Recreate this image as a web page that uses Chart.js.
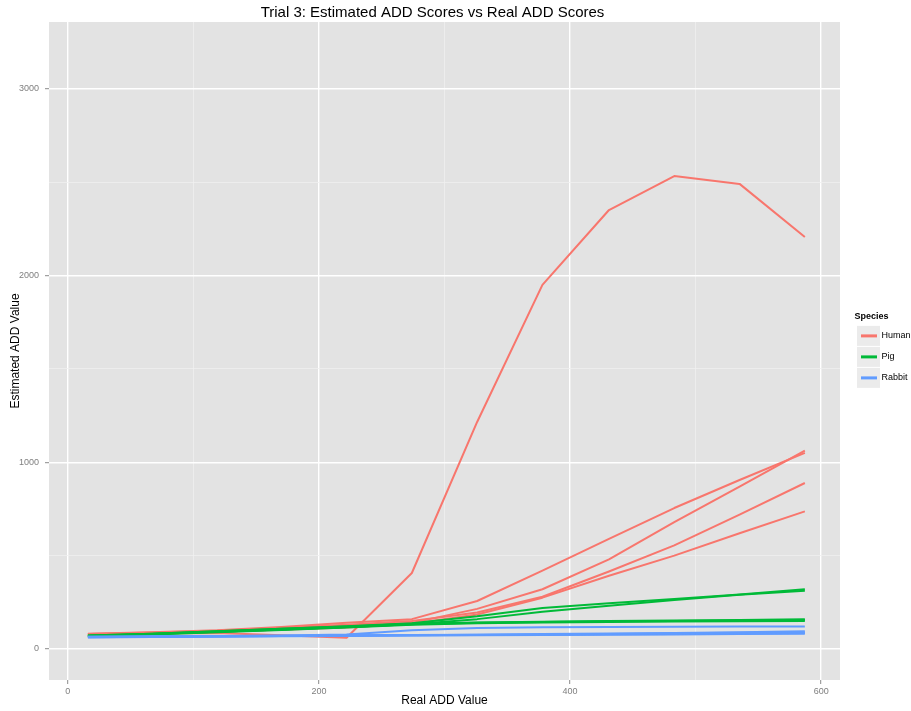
<!DOCTYPE html>
<html>
<head>
<meta charset="utf-8">
<title>Trial 3: Estimated ADD Scores vs Real ADD Scores</title>
<script src="https://cdn.jsdelivr.net/npm/chart.js@4.4.0/dist/chart.umd.min.js"></script>
<style>
  html, body { margin: 0; padding: 0; background: #ffffff; }
  #wrap { width: 911px; height: 711px; }
</style>
</head>
<body>
<div id="wrap"><canvas id="chart" width="911" height="711"></canvas></div>
<script>
// Real accumulated degree-day values at which each estimate was taken
const realAdd = [16, 67, 119, 170, 222, 274, 326, 378, 431, 483, 535, 587];

// Estimated ADD values, one array per replicate
const human1 = [80, 83, 86, 73, 60, 407, 1216, 1950, 2351, 2533, 2491, 2207];
const human2 = [82, 90, 100, 118, 140, 160, 257, 420, 590, 755, 905, 1050];
const human3 = [78, 85, 95, 108, 122, 140, 215, 320, 480, 680, 870, 1062];
const human4 = [80, 88, 98, 113, 130, 150, 195, 280, 415, 555, 720, 889];
const human5 = [76, 83, 92, 103, 115, 135, 185, 275, 392, 500, 620, 737];

const pig1 = [72, 82, 95, 108, 122, 138, 175, 220, 245, 268, 292, 320];
const pig2 = [70, 80, 92, 105, 118, 132, 160, 200, 232, 262, 290, 312];
const pig3 = [72, 82, 95, 108, 120, 135, 142, 146, 150, 153, 156, 160];
const pig4 = [70, 80, 92, 105, 118, 132, 140, 144, 148, 150, 153, 155];
const pig5 = [68, 78, 90, 102, 115, 130, 138, 142, 145, 147, 149, 150];

const rabbit1 = [66, 68, 70, 72, 78, 100, 112, 116, 118, 119, 120, 121];
const rabbit2 = [65, 67, 69, 71, 73, 75, 77, 80, 83, 86, 90, 95];
const rabbit3 = [64, 66, 68, 70, 72, 74, 76, 78, 81, 84, 87, 90];
const rabbit4 = [63, 65, 67, 69, 71, 73, 75, 77, 79, 81, 83, 86];
const rabbit5 = [62, 64, 66, 68, 70, 72, 73, 75, 77, 78, 80, 82];

const speciesNames = ['Human', 'Pig', 'Rabbit'];
const speciesColors = ['#F8766D', '#00BA38', '#619CFF'];
const speciesRuns = [
  [human1, human2, human3, human4, human5],
  [pig1, pig2, pig3, pig4, pig5],
  [rabbit1, rabbit2, rabbit3, rabbit4, rabbit5]
];

// Axis ticks: labelled majors plus unlabelled minor grid lines
const xTicks = [0, 100, 200, 300, 400, 500, 600];
const xMajor = [0, 200, 400, 600];
const yTicks = [0, 500, 1000, 1500, 2000, 2500, 3000];
const yMajor = [0, 1000, 2000, 3000];

const FONT = '"Liberation Sans", Arial, Helvetica, sans-serif';
const LEGEND_W = 71;     // width reserved for the legend column
const KEY_INSET = 9;     // extra indent of the legend keys
const KEY_TRIM = 26;     // narrows the box the legend title is centred in
const TITLE_NUDGE = 12;  // moves the centred plot title slightly left

const datasets = [];
speciesRuns.forEach((runs, s) => {
  runs.forEach(run => {
    datasets.push({
      label: speciesNames[s],
      data: realAdd.map((x, i) => ({ x: x, y: run[i] })),
      borderColor: speciesColors[s],
      backgroundColor: speciesColors[s],
      borderWidth: 2,
      borderCapStyle: 'butt',
      borderJoinStyle: 'round',
      pointRadius: 0,
      pointHoverRadius: 0,
      fill: false,
      tension: 0,
      order: 2 - s
    });
  });
});

function gridStyle(majors) {
  return {
    color: c => majors.includes(c.tick.value) ? '#FFFFFF' : '#F0F0F0',
    lineWidth: c => majors.includes(c.tick.value) ? 1.4 : 0.8,
    tickColor: c => majors.includes(c.tick.value) ? '#8A8A8A' : 'rgba(0,0,0,0)',
    tickLength: 4,
    tickWidth: 1
  };
}

// Grey panel behind the grid, legend sizing and grey key backgrounds
const panelPlugin = {
  id: 'panel',
  beforeLayout(chart) {
    const lg = chart.legend;
    if (lg && !lg._fixedWidth) {
      const fit = lg.fit;
      lg.fit = function () { fit.call(this); this.width = LEGEND_W; };
      lg._fixedWidth = true;
    }
  },
  afterUpdate(chart) {
    const lg = chart.legend;
    if (lg) {
      lg.left += KEY_INSET;
      lg.width -= KEY_TRIM;
      if (lg.legendHitBoxes) {
        lg.legendHitBoxes.forEach(h => { h.left += KEY_INSET; });
      }
    }
    const tb = chart.titleBlock;
    if (tb) {
      tb.left -= TITLE_NUDGE;
      tb.right -= TITLE_NUDGE;
    }
  },
  beforeDraw(chart) {
    const { ctx, chartArea: a } = chart;
    ctx.save();
    ctx.fillStyle = '#E3E3E3';
    ctx.fillRect(a.left, a.top, a.right - a.left, a.bottom - a.top);
    const lg = chart.legend;
    if (lg && lg.legendHitBoxes) {
      const bw = lg.options.labels.boxWidth;
      lg.legendHitBoxes.forEach(h => {
        const cy = h.top + 4.5;
        ctx.fillStyle = '#EBEBEB';
        ctx.fillRect(h.left - 4, cy - 10, bw + 7, 20);
      });
    }
    ctx.restore();
  }
};

new Chart(document.getElementById('chart'), {
  type: 'line',
  data: { datasets: datasets },
  options: {
    responsive: false,
    animation: false,
    devicePixelRatio: 1,
    layout: { padding: { left: 0, right: 0, top: 0, bottom: 0 } },
    interaction: { mode: null },
    plugins: {
      tooltip: { enabled: false },
      title: {
        display: true,
        text: 'Trial 3: Estimated ADD Scores vs Real ADD Scores',
        color: '#000000',
        fullSize: false,
        font: { family: FONT, size: 15, weight: 'normal' },
        padding: { top: 4, bottom: 0 }
      },
      legend: {
        display: true,
        position: 'right',
        align: 'center',
        title: {
          display: true,
          text: 'Species',
          color: '#000000',
          font: { family: FONT, size: 9, weight: 'bold' },
          padding: { top: -5, bottom: -3 }
        },
        labels: {
          color: '#000000',
          font: { family: FONT, size: 9 },
          boxWidth: 16,
          boxHeight: 3,
          padding: 12,
          generateLabels: () => speciesNames.map((name, s) => ({
            text: name,
            fillStyle: speciesColors[s],
            strokeStyle: speciesColors[s],
            lineWidth: 0,
            hidden: false,
            datasetIndex: s * 5
          }))
        }
      }
    },
    scales: {
      x: {
        type: 'linear',
        min: -15,
        max: 615,
        afterBuildTicks: s => { s.ticks = xTicks.map(v => ({ value: v })); },
        afterFit: s => { s.height = 31; },
        border: { display: false },
        grid: gridStyle(xMajor),
        ticks: {
          autoSkip: false,
          maxRotation: 0,
          padding: 2,
          color: '#7F7F7F',
          font: { family: FONT, size: 9 },
          callback: v => xMajor.includes(v) ? String(v) : ''
        },
        title: {
          display: true,
          text: 'Real ADD Value',
          color: '#000000',
          font: { family: FONT, size: 12 },
          padding: { top: 0, bottom: 3 }
        }
      },
      y: {
        type: 'linear',
        min: -166,
        max: 3358,
        afterBuildTicks: s => { s.ticks = yTicks.map(v => ({ value: v })); },
        afterFit: s => { s.width = 49; },
        border: { display: false },
        grid: gridStyle(yMajor),
        ticks: {
          autoSkip: false,
          padding: 6,
          color: '#7F7F7F',
          font: { family: FONT, size: 9 },
          callback: v => yMajor.includes(v) ? String(v) : ''
        },
        title: {
          display: true,
          text: 'Estimated ADD Value',
          color: '#000000',
          font: { family: FONT, size: 12 },
          padding: { top: 8, bottom: 0 }
        }
      }
    }
  },
  plugins: [panelPlugin]
});
</script>
</body>
</html>
